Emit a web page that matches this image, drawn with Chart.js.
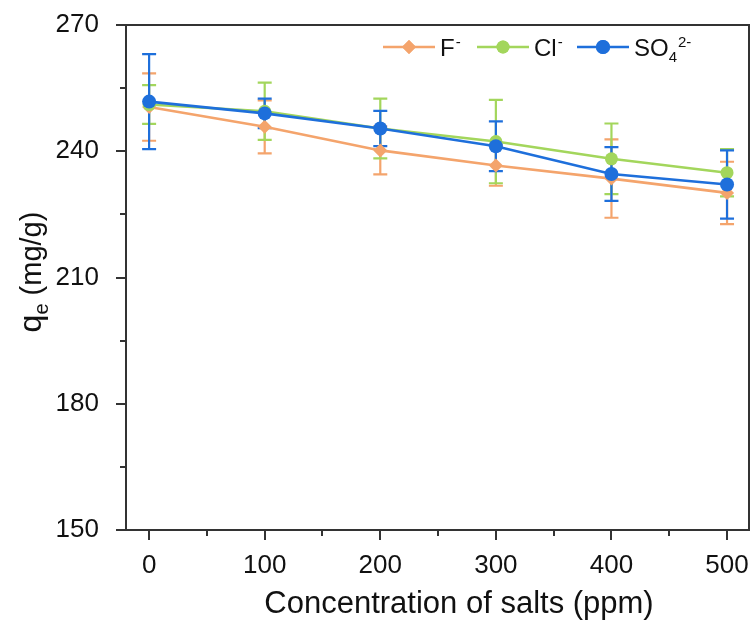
<!DOCTYPE html>
<html>
<head>
<meta charset="utf-8">
<script src="https://cdn.jsdelivr.net/npm/chart.js@4.4.1/dist/chart.umd.min.js"></script>
<style>
  html, body { margin: 0; padding: 0; background: #fff; }
  #wrap { width: 756px; height: 624px; }
</style>
</head>
<body>
<div id="wrap"><canvas id="saltChart"></canvas></div>
<script>
const concentrations = [0, 100, 200, 300, 400, 500];
const xTicks = [0, 100, 200, 300, 400, 500];
const yTicks = [150, 180, 210, 240, 270];

const fValues = [250.5, 245.8, 240.2, 236.6, 233.5, 230.1];
const fErrors = [8.0, 6.3, 5.7, 4.8, 9.3, 7.4];
const clValues = [251.1, 249.5, 245.4, 242.3, 238.2, 234.9];
const clErrors = [4.6, 6.8, 7.1, 9.9, 8.4, 5.6];
const so4Values = [251.8, 249.0, 245.4, 241.2, 234.6, 232.1];
const so4Errors = [11.3, 3.5, 4.2, 5.9, 6.4, 8.1];

const FONT = "'Liberation Sans', Arial, sans-serif";
const AXIS = '#333';

const series = [
    { key: 'F', values: fValues, errors: fErrors, color: '#F4A46C', point: 'rectRot', radius: 7, order: 2 },
    { key: 'Cl', values: clValues, errors: clErrors, color: '#A3D65C', point: 'circle', radius: 6.5, order: 1 },
    { key: 'SO4', values: so4Values, errors: so4Errors, color: '#1E6FDB', point: 'circle', radius: 7, order: 0 }
];

function toPoints(values) {
    return concentrations.map((x, i) => ({ x: x, y: values[i] }));
}

function noPad(scale) {
    scale.paddingTop = 0;
    scale.paddingBottom = 0;
    scale.paddingLeft = 0;
    scale.paddingRight = 0;
}

// error bars, ticks, frame, axis titles and legend
const decorPlugin = {
    id: 'decor',
    beforeDatasetsDraw(chart) {
        const ctx = chart.ctx;
        const xs = chart.scales.x, ys = chart.scales.y;
        ctx.save();
        series.forEach(s => {
            ctx.strokeStyle = s.color;
            ctx.lineWidth = 2.2;
            s.values.forEach((v, i) => {
                const px = xs.getPixelForValue(concentrations[i]);
                const top = ys.getPixelForValue(v + s.errors[i]);
                const bot = ys.getPixelForValue(v - s.errors[i]);
                ctx.beginPath();
                ctx.moveTo(px, top); ctx.lineTo(px, bot);
                ctx.moveTo(px - 7, top); ctx.lineTo(px + 7, top);
                ctx.moveTo(px - 7, bot); ctx.lineTo(px + 7, bot);
                ctx.stroke();
            });
        });
        ctx.restore();
    },
    afterDraw(chart) {
        const ctx = chart.ctx;
        const a = chart.chartArea;
        const xs = chart.scales.x, ys = chart.scales.y;
        ctx.save();
        ctx.strokeStyle = AXIS;
        ctx.lineWidth = 2;
        // frame top & right
        ctx.beginPath();
        ctx.moveTo(a.left, a.top); ctx.lineTo(a.right, a.top); ctx.lineTo(a.right, a.bottom);
        ctx.stroke();
        // y ticks
        for (let v = 150; v <= 270; v += 15) {
            const py = Math.round(ys.getPixelForValue(v));
            const len = (v % 30 === 0) ? 10 : 6;
            ctx.beginPath(); ctx.moveTo(a.left - len, py); ctx.lineTo(a.left, py); ctx.stroke();
        }
        // x ticks
        for (let v = 0; v <= 500; v += 50) {
            const px = Math.round(xs.getPixelForValue(v));
            const len = (v % 100 === 0) ? 10 : 6;
            ctx.beginPath(); ctx.moveTo(px, a.bottom); ctx.lineTo(px, a.bottom + len); ctx.stroke();
        }

        ctx.fillStyle = '#111';
        // x title
        ctx.font = '31px ' + FONT;
        ctx.textAlign = 'center';
        ctx.textBaseline = 'middle';
        ctx.fillText('Concentration of salts (ppm)', 459, 604);

        // y title with subscript
        ctx.save();
        ctx.translate(32, 272);
        ctx.rotate(-Math.PI / 2);
        ctx.textAlign = 'left';
        ctx.textBaseline = 'alphabetic';
        const big = '32px ' + FONT, small = '20px ' + FONT, mid = '29px ' + FONT;
        ctx.font = big;
        const qW = ctx.measureText('q').width;
        ctx.font = small;
        const eW = ctx.measureText('e').width;
        ctx.font = mid;
        const restW = ctx.measureText(' (mg/g)').width;
        let x0 = -(qW + eW + restW) / 2;
        ctx.font = big; ctx.fillText('q', x0, 9); x0 += qW;
        ctx.font = small; ctx.fillText('e', x0, 16); x0 += eW;
        ctx.font = mid; ctx.fillText(' (mg/g)', x0, 9);
        ctx.restore();

        // legend
        const ly = 47;
        const items = [
            { s: series[0], x: 383, parts: [['F', 0, 24], ['-', -9, 15]] },
            { s: series[1], x: 477, parts: [['Cl', 0, 24], ['-', -9, 15]] },
            { s: series[2], x: 577, parts: [['SO', 0, 24], ['4', 6, 15], ['2-', -9, 15]] }
        ];
        items.forEach(it => {
            ctx.strokeStyle = it.s.color;
            ctx.fillStyle = it.s.color;
            ctx.lineWidth = 2.5;
            ctx.beginPath(); ctx.moveTo(it.x, ly); ctx.lineTo(it.x + 52, ly); ctx.stroke();
            Chart.helpers.drawPoint(ctx, { pointStyle: it.s.point, radius: it.s.radius, borderWidth: 0 }, it.x + 26, ly);
            ctx.fill();
            let tx = it.x + 57;
            ctx.fillStyle = '#111';
            ctx.textAlign = 'left';
            ctx.textBaseline = 'alphabetic';
            it.parts.forEach(p => {
                ctx.font = p[2] + 'px ' + FONT;
                ctx.fillText(p[0], tx, ly + 9 + p[1]);
                tx += ctx.measureText(p[0]).width + (p[0] === 'SO' ? 0 : 1);
            });
        });
        ctx.restore();
    }
};

const datasets = series.map(s => ({
    label: s.key,
    data: toPoints(s.values),
    borderColor: s.color,
    backgroundColor: s.color,
    borderWidth: 2.6,
    pointStyle: s.point,
    pointRadius: s.radius,
    pointBorderWidth: 0,
    pointBackgroundColor: s.color,
    tension: 0,
    order: s.order
}));

new Chart(document.getElementById('saltChart'), {
    type: 'line',
    data: { datasets: datasets },
    options: {
        responsive: true,
        maintainAspectRatio: false,
        animation: false,
        layout: { padding: { top: 25, right: 3, left: 0, bottom: 0 } },
        scales: {
            x: {
                type: 'linear',
                min: -20,
                max: 519,
                afterFit(scale) { scale.height = 94; noPad(scale); },
                afterBuildTicks(scale) { scale.ticks = xTicks.map(v => ({ value: v })); },
                grid: { display: false, drawTicks: false },
                border: { display: true, color: AXIS, width: 2 },
                ticks: { padding: 20, color: '#111', font: { family: FONT, size: 26 }, maxRotation: 0 }
            },
            y: {
                min: 150,
                max: 270,
                afterFit(scale) { scale.width = 126; noPad(scale); },
                afterBuildTicks(scale) { scale.ticks = yTicks.map(v => ({ value: v })); },
                grid: { display: false, drawTicks: false },
                border: { display: true, color: AXIS, width: 2 },
                ticks: { padding: 27, color: '#111', font: { family: FONT, size: 26 } }
            }
        },
        plugins: {
            legend: { display: false },
            tooltip: { enabled: false }
        }
    },
    plugins: [decorPlugin]
});
</script>
</body>
</html>
